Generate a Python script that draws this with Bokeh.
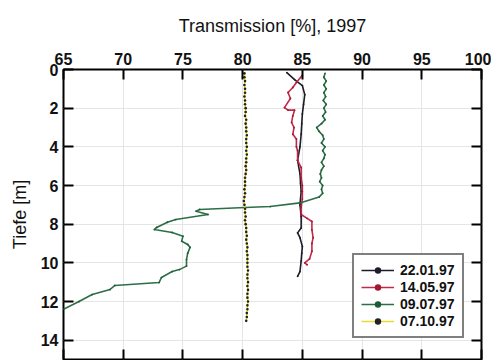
from bokeh.plotting import figure
from bokeh.models import Range1d, LinearAxis, FixedTicker, Legend, LegendItem
from bokeh.embed import file_html
from bokeh.resources import INLINE

# ---- data (depth in m, transmission in %) ----
x_ticks = [65, 70, 75, 80, 85, 90, 95, 100]
y_ticks = [0, 2, 4, 6, 8, 10, 12, 14]

labels = ["22.01.97", "14.05.97", "09.07.97", "07.10.97"]

d_jan = [0.16, 0.52, 0.83, 1.3, 1.8, 2.3, 2.8, 3.35, 4.0, 4.7, 5.4, 5.9, 6.3, 7.0,
         7.6, 8.2, 8.45, 8.7, 9.15, 9.5, 9.9, 10.45, 10.7]
t_jan = [83.7, 84.35, 85.0, 85.2, 85.1, 85.0, 84.95, 84.9, 84.8, 84.6, 84.8, 84.85, 84.9, 84.8,
         84.9, 84.9, 84.6, 84.8, 85.0, 84.95, 84.9, 84.8, 84.6]

d_may = [0.3, 0.67, 0.93, 1.19, 1.5, 1.97, 2.1, 2.1, 2.4, 2.74, 3.0, 3.35, 3.6, 4.0, 4.2,
         4.7, 5.07, 5.6, 6.0, 6.3, 6.7, 7.1, 7.5, 7.7, 7.86, 8.3, 8.7, 9.0, 9.4, 9.8, 10.0, 10.1]
t_may = [85.0, 84.5, 84.2, 83.8, 84.0, 83.5, 83.8, 84.35, 84.2, 84.1, 84.3, 84.2, 84.5, 84.5, 84.6,
         84.6, 84.9, 84.9, 85.0, 85.0, 85.0, 84.9, 84.9, 85.4, 85.8, 85.8, 85.9, 85.8, 85.8, 85.6, 85.2, 85.4]

d_jul = [0.2, 0.4, 0.6, 0.8, 1.0, 1.2, 1.4, 1.6, 1.8, 2.0, 2.2, 2.4, 2.6, 2.8, 3.0, 3.2, 3.4,
         3.6, 3.8, 4.0, 4.2, 4.4, 4.6, 4.8, 5.0, 5.2, 5.4, 5.6, 5.8, 6.0, 6.2, 6.4, 6.6,
         6.9, 7.09, 7.14, 7.24, 7.33, 7.5, 7.76, 7.9, 8.17, 8.28, 8.43, 8.62, 8.88, 9.05, 9.2,
         9.5, 9.83, 10.17, 10.35, 10.45, 10.76, 11.02, 11.17, 11.38, 11.64, 12.0, 12.4]
t_jul = [86.9, 86.8, 87.0, 86.8, 87.0, 86.8, 86.95, 86.75, 87.0, 86.8, 86.95, 86.7, 86.9, 86.6,
         86.2, 86.4, 86.7, 86.8, 86.6, 86.9, 86.7, 86.9, 86.8, 86.6, 86.8, 86.6, 86.5, 86.6,
         86.45, 86.7, 86.6, 86.7, 86.4,
         84.8, 82.3, 80.2, 76.4, 76.1, 77.1, 74.4, 73.7, 72.8, 72.6, 74.1, 75.0, 74.9, 75.4, 75.6,
         75.4, 75.3, 75.3, 74.7, 74.1, 73.2, 73.0, 69.3, 68.9, 67.4, 66.3, 65.0]

d_oct = [0.2, 0.4, 0.6, 0.8, 1.0, 1.2, 1.4, 1.6, 1.8, 2.0,
         2.2, 2.4, 2.6, 2.8, 3.0, 3.2, 3.4, 3.6, 3.8, 4.0,
         4.2, 4.4, 4.6, 4.8, 5.0, 5.2, 5.4, 5.6, 5.8, 6.0,
         6.2, 6.4, 6.6, 6.8, 7.0, 7.2, 7.4, 7.6, 7.8, 8.0,
         8.2, 8.4, 8.6, 8.8, 9.0, 9.2, 9.4, 9.6, 9.8, 10.0,
         10.2, 10.4, 10.6, 10.8, 11.0, 11.2, 11.4, 11.6, 11.8, 12.0,
         12.2, 12.4, 12.6, 12.8, 13.0]
t_oct = [80.15, 80.15, 80.2, 80.15, 80.2, 80.2, 80.15, 80.2, 80.2, 80.25,
         80.25, 80.2, 80.3, 80.25, 80.3, 80.3, 80.35, 80.3, 80.3, 80.35,
         80.3, 80.35, 80.3, 80.3, 80.25, 80.3, 80.25, 80.2, 80.2, 80.2,
         80.15, 80.2, 80.15, 80.1, 80.15, 80.2, 80.2, 80.25, 80.2, 80.25,
         80.3, 80.3, 80.35, 80.3, 80.35, 80.4, 80.35, 80.4, 80.4, 80.4,
         80.4, 80.45, 80.4, 80.4, 80.45, 80.4, 80.45, 80.4, 80.4, 80.45,
         80.4, 80.4, 80.35, 80.35, 80.3]

FONT = "Liberation Sans"

p = figure(frame_width=418, frame_height=290,
           x_range=Range1d(65, 100), y_range=Range1d(15, 0),
           output_backend="svg", toolbar_location=None,
           x_axis_location=None, y_axis_location=None,
           min_border_left=63, min_border_top=69, min_border_right=10, min_border_bottom=1)
p.outline_line_color = "black"
p.outline_line_width = 2
p.background_fill_color = "white"
p.border_fill_color = "white"


def style_axis(ax, labels_on=True, ticks=None):
    ax.axis_line_color = None
    ax.major_tick_in = 10
    ax.major_tick_out = 0
    ax.major_tick_line_color = "black"
    ax.major_tick_line_width = 2
    ax.minor_tick_line_color = None
    ax.major_label_text_font = FONT
    ax.major_label_text_font_style = "bold"
    ax.major_label_text_color = "#111111"
    ax.axis_label_text_font = FONT
    ax.axis_label_text_font_style = "normal"
    ax.axis_label_text_color = "#111111"
    ax.axis_label_text_font_size = "18px"
    if labels_on:
        ax.major_label_text_font_size = "16px"
        ax.major_label_standoff = 5
    else:
        ax.major_label_overrides = {t: "" for t in ticks}
        ax.major_label_text_font_size = "1px"
        ax.major_label_standoff = 0


top = LinearAxis(ticker=FixedTicker(ticks=x_ticks), axis_label="Transmission [%], 1997")
style_axis(top)
top.axis_label_standoff = 14
p.add_layout(top, "above")

bottom = LinearAxis(ticker=FixedTicker(ticks=x_ticks))
style_axis(bottom, labels_on=False, ticks=x_ticks)
p.add_layout(bottom, "below")

left = LinearAxis(ticker=FixedTicker(ticks=y_ticks), axis_label="Tiefe [m]")
style_axis(left)
left.major_label_standoff = 5
left.axis_label_standoff = 8
p.add_layout(left, "left")

right = LinearAxis(ticker=FixedTicker(ticks=y_ticks))
style_axis(right, labels_on=False, ticks=y_ticks)
p.add_layout(right, "right")

colors = ["#1c1c2a", "#c42848", "#2c6e46", "#e8dc30"]
dot_colors = ["#1c1c2a", "#a01830", "#1f5a36", "#222222"]
series = [(t_jan, d_jan), (t_may, d_may), (t_jul, d_jul), (t_oct, d_oct)]

items = []
for (tx, dy), c, dc, lab in zip(series, colors, dot_colors, labels):
    ln = p.line(tx, dy, line_color=c, line_width=1.6)
    if lab == "07.10.97":
        sc = p.scatter(tx, dy, size=2.6, fill_color=dc, line_color=None)
    else:
        sc = p.scatter(tx, dy, size=1.8, fill_color=dc, line_color=None)
    items.append(LegendItem(label=lab, renderers=[ln, sc]))

legend = Legend(items=items, location=(289, 21))
legend.border_line_color = "black"
legend.border_line_width = 2
legend.background_fill_color = "white"
legend.label_text_font = FONT
legend.label_text_font_style = "bold"
legend.label_text_font_size = "14px"
legend.label_text_color = "#111111"
legend.glyph_width = 33
legend.glyph_height = 16
legend.label_height = 16
legend.label_standoff = 6
legend.spacing = 1
legend.padding = 7
legend.margin = 0
p.add_layout(legend)

open("out.html", "w").write(file_html(p, INLINE))
